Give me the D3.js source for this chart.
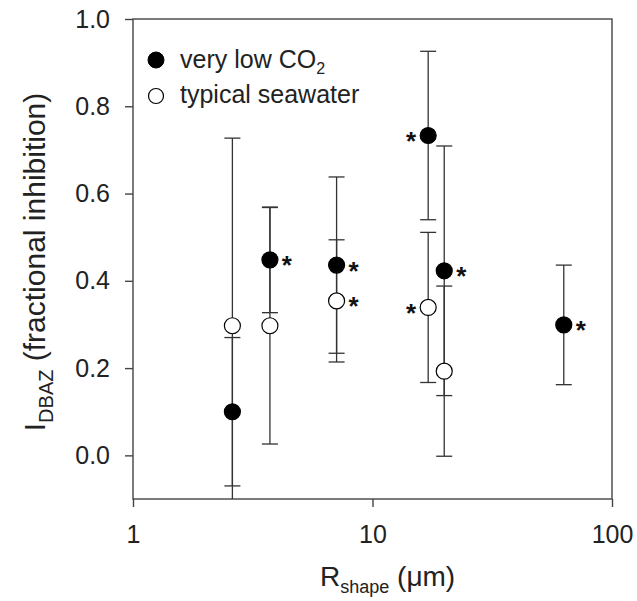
<!DOCTYPE html>
<html lang="en">
<head>
    <meta charset="utf-8">
    <title>DBAZ inhibition vs Rshape</title>
    <script src="https://d3js.org/d3.v7.min.js"></script>
    <style>
        body { margin: 0; background: #fff; }
        svg { font-family: "Liberation Sans", Arial, sans-serif; }
    </style>
</head>
<body>
    <div id="chart"></div>
    <script>
        // Data
        const rshape = [2.6, 3.73, 7.08, 17.08, 19.93, 62.9];
        const lowCO2 = [0.10, 0.448, 0.436, 0.733, 0.423, 0.299];
        const lowCO2Err = [0.17, 0.121, 0.202, 0.193, 0.286, 0.137];
        const lowCO2Star = ["", "right", "right", "left", "right", "right"];
        const seawater = [0.297, 0.297, 0.354, 0.339, 0.193];
        const seawaterErr = [0.43, 0.271, 0.14, 0.172, 0.195];
        const seawaterStar = ["", "", "right", "left", ""];
        const xTicks = [1, 10, 100];
        const yTicks = [0.0, 0.2, 0.4, 0.6, 0.8, 1.0];

        const W = 637, H = 601;
        const margin = {top: 19, right: 25, bottom: 102, left: 133};
        const w = W - margin.left - margin.right;
        const h = H - margin.top - margin.bottom;

        const svg = d3.select("#chart").append("svg")
            .attr("width", W).attr("height", H);

        svg.append("defs").append("clipPath").attr("id", "plot-clip")
            .append("rect").attr("width", w).attr("height", h);

        const g = svg.append("g").attr("transform", `translate(${margin.left},${margin.top})`);

        const x = d3.scaleLog().domain([1, 100]).range([0, w]);
        const y = d3.scaleLinear().domain([-0.1, 1.0]).range([h, 0]);

        const axisColor = "#444";

        // axes
        const xAxis = g.append("g").attr("transform", `translate(0,${h})`)
            .call(d3.axisBottom(x).tickValues(xTicks).tickFormat(d3.format("d")).tickSize(8).tickPadding(18));
        const yAxis = g.append("g")
            .call(d3.axisLeft(y).tickValues(yTicks).tickFormat(d3.format(".1f")).tickSize(8).tickPadding(15));
        [xAxis, yAxis].forEach(a => {
            a.select(".domain").remove();
            a.selectAll("line").attr("stroke", axisColor).attr("stroke-width", 1.4);
            a.selectAll("text").attr("font-size", 25).attr("fill", "#222");
        });

        // frame
        g.append("rect").attr("width", w).attr("height", h)
            .attr("fill", "none").attr("stroke", axisColor).attr("stroke-width", 1.4);

        const plot = g.append("g").attr("clip-path", "url(#plot-clip)");
        const cap = 8, r = 8;

        function errorBars(vals, errs) {
            vals.forEach((v, i) => {
                const cx = x(rshape[i]);
                const lo = v - errs[i], hi = v + errs[i];
                plot.append("line").attr("x1", cx).attr("x2", cx)
                    .attr("y1", y(lo)).attr("y2", y(hi))
                    .attr("stroke", "#333").attr("stroke-width", 1.3);
                [lo, hi].forEach(e => {
                    plot.append("line").attr("x1", cx - cap).attr("x2", cx + cap)
                        .attr("y1", y(e)).attr("y2", y(e))
                        .attr("stroke", "#333").attr("stroke-width", 1.3);
                });
            });
        }
        errorBars(lowCO2, lowCO2Err);
        errorBars(seawater, seawaterErr);

        function points(vals, fill) {
            plot.selectAll(null).data(vals).enter().append("circle")
                .attr("cx", (d, i) => x(rshape[i]))
                .attr("cy", d => y(d))
                .attr("r", r)
                .attr("fill", fill)
                .attr("stroke", "#000").attr("stroke-width", 1.2);
        }
        points(lowCO2, "#000");
        points(seawater, "#fff");

        // significance asterisks
        function stars(vals, sides) {
            vals.forEach((v, i) => {
                if (!sides[i]) return;
                const dx = sides[i] === "right" ? 17 : -17;
                g.append("text")
                    .attr("x", x(rshape[i]) + dx)
                    .attr("y", y(v) + 14.5)
                    .attr("text-anchor", "middle")
                    .attr("font-size", 26)
                    .attr("font-weight", "bold")
                    .attr("fill", "#111")
                    .text("*");
            });
        }
        stars(lowCO2, lowCO2Star);
        stars(seawater, seawaterStar);

        // legend
        const legend = svg.append("g");
        legend.append("circle").attr("cx", 156).attr("cy", 60).attr("r", 8)
            .attr("fill", "#000").attr("stroke", "#000");
        legend.append("circle").attr("cx", 156).attr("cy", 96).attr("r", 7.5)
            .attr("fill", "#fff").attr("stroke", "#000").attr("stroke-width", 1.2);
        const t1 = legend.append("text").attr("x", 180).attr("y", 68)
            .attr("font-size", 25).attr("fill", "#222");
        t1.append("tspan").text("very low CO");
        t1.append("tspan").attr("font-size", 16).attr("dy", 6).text("2");
        legend.append("text").attr("x", 180).attr("y", 103)
            .attr("font-size", 25).attr("fill", "#222").text("typical seawater");

        // axis titles
        const xt = svg.append("text").attr("x", 320).attr("y", 586)
            .attr("font-size", 28).attr("fill", "#222");
        xt.append("tspan").text("R");
        xt.append("tspan").attr("font-size", 18).attr("dy", 7).text("shape");
        xt.append("tspan").attr("dy", -7).text(" (\u03bcm)");

        const yt = svg.append("text")
            .attr("transform", "translate(45,262) rotate(-90)")
            .attr("text-anchor", "middle")
            .attr("font-size", 30).attr("fill", "#222");
        yt.append("tspan").text("I");
        yt.append("tspan").attr("font-size", 20).attr("dy", 8).text("DBAZ");
        yt.append("tspan").attr("dy", -8).text(" (fractional inhibition)");
    </script>
</body>
</html>
